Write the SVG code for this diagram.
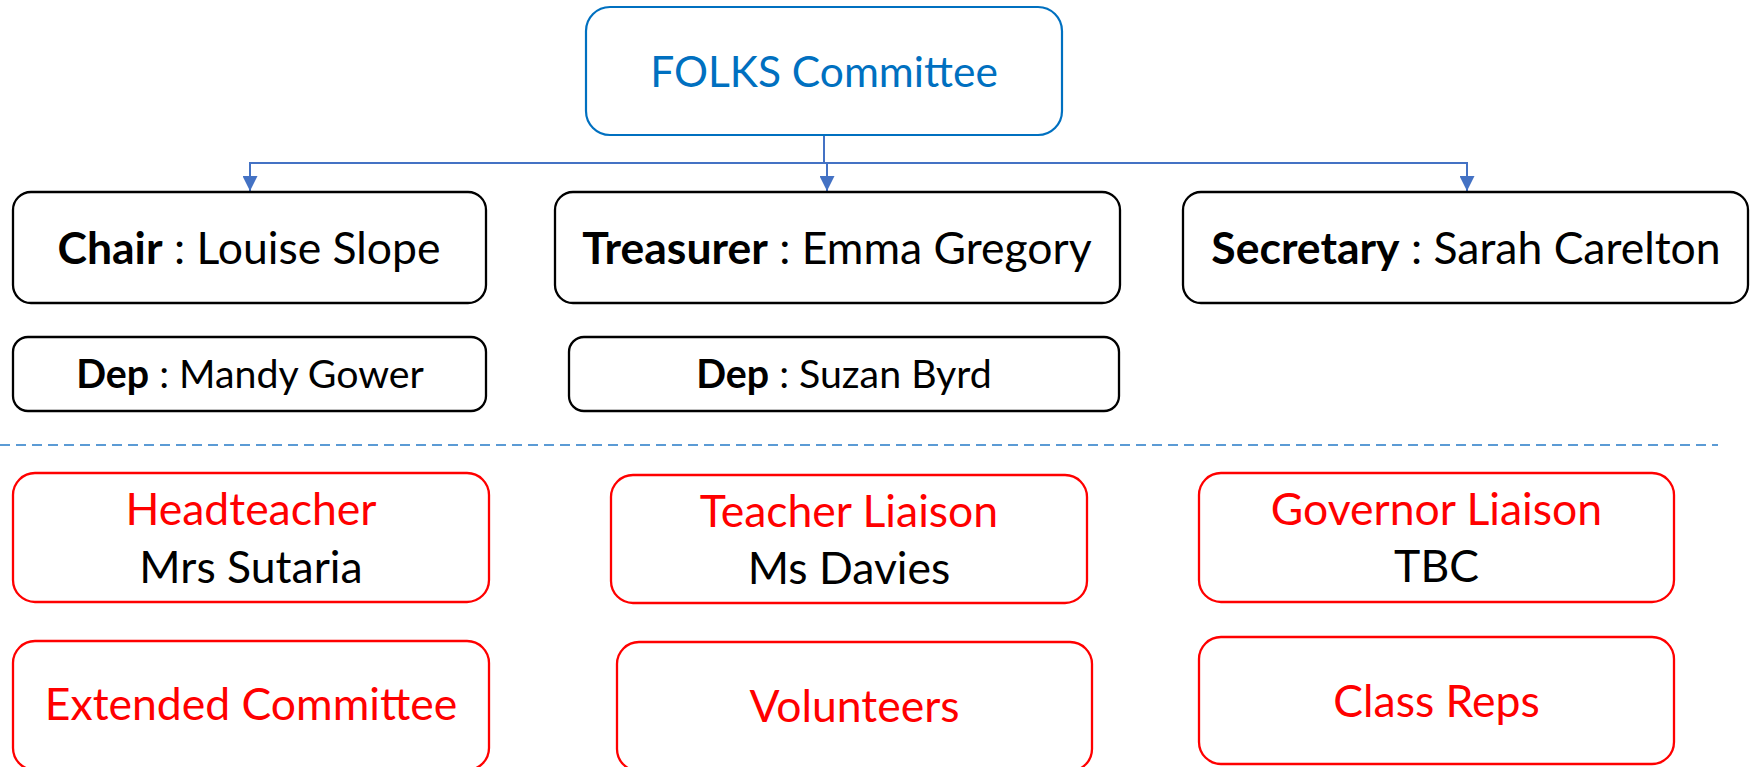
<svg xmlns="http://www.w3.org/2000/svg" width="1752" height="767" viewBox="0 0 1752 767">
<style>
  text { font-family: Lato, "Liberation Sans", sans-serif; text-anchor: middle; }
  .big { font-size: 44.5px; }
  .title { font-size: 42.5px; }
  .dep { font-size: 39.3px; }
  .b { font-weight: bold; }
  .blk { fill: #000000; }
  .red { fill: #FF0000; }
  .blu { fill: #0070C0; }
  .boxk { fill: #FFFFFF; stroke: #000000; stroke-width: 2.3; }
  .boxr { fill: #FFFFFF; stroke: #FF0000; stroke-width: 2.3; }
  .boxb { fill: #FFFFFF; stroke: #0070C0; stroke-width: 2.2; }
  .conn { fill: none; stroke: #4472C4; stroke-width: 2; }
  .sep { fill: none; stroke: #5B9BD5; stroke-width: 2; stroke-dasharray: 10 6; }
</style>
<defs>
  <marker id="arr" viewBox="0 0 10 10" refX="10" refY="5" markerWidth="15" markerHeight="15" markerUnits="userSpaceOnUse" orient="auto">
    <path d="M0,0 L10,5 L0,10 z" fill="#4472C4"/>
  </marker>
</defs>
<rect width="1752" height="767" fill="#FFFFFF"/>

<g id="connectors">
  <path class="conn" d="M824,135 V163 H250 V191" marker-end="url(#arr)"/>
  <path class="conn" d="M824,135 V163 H827 V191" marker-end="url(#arr)"/>
  <path class="conn" d="M824,135 V163 H1467 V191" marker-end="url(#arr)"/>
</g>

<g id="folks">
  <rect class="boxb" x="586" y="7" width="476" height="128" rx="24"/>
  <text class="title blu" x="824" y="87">FOLKS Committee</text>
</g>

<g id="chair">
  <rect class="boxk" x="13" y="192" width="473" height="111" rx="18"/>
  <text class="big blk" x="249" y="264"><tspan class="b">Chair</tspan> : Louise Slope</text>
</g>
<g id="treasurer">
  <rect class="boxk" x="555" y="192" width="565" height="111" rx="18"/>
  <text class="big blk" x="837" y="264"><tspan class="b">Treasurer</tspan> : Emma Gregory</text>
</g>
<g id="secretary">
  <rect class="boxk" x="1183" y="192" width="565" height="111" rx="18"/>
  <text class="big blk" x="1466" y="264"><tspan class="b">Secretary</tspan> : Sarah Carelton</text>
</g>

<g id="dep-chair">
  <rect class="boxk" x="13" y="337" width="473" height="74" rx="15"/>
  <text class="dep blk" x="250" y="388"><tspan class="b">Dep</tspan> : Mandy Gower</text>
</g>
<g id="dep-treasurer">
  <rect class="boxk" x="569" y="337" width="550" height="74" rx="15"/>
  <text class="dep blk" x="844" y="388"><tspan class="b">Dep</tspan> : Suzan Byrd</text>
</g>

<line class="sep" x1="0" y1="445" x2="1718" y2="445"/>

<g id="headteacher">
  <rect class="boxr" x="13" y="473" width="476" height="129" rx="22"/>
  <text class="big red" x="251" y="525">Headteacher</text>
  <text class="big blk" x="251" y="583">Mrs Sutaria</text>
</g>
<g id="teacher-liaison">
  <rect class="boxr" x="611" y="475" width="476" height="128" rx="22"/>
  <text class="big red" x="849" y="527">Teacher Liaison</text>
  <text class="big blk" x="849" y="584">Ms Davies</text>
</g>
<g id="governor-liaison">
  <rect class="boxr" x="1199" y="473" width="475" height="129" rx="22"/>
  <text class="big red" x="1436.5" y="525">Governor Liaison</text>
  <text class="big blk" x="1436.5" y="582">TBC</text>
</g>

<g id="extended-committee">
  <rect class="boxr" x="13" y="641" width="476" height="129" rx="22"/>
  <text class="big red" x="251" y="720">Extended Committee</text>
</g>
<g id="volunteers">
  <rect class="boxr" x="617" y="642" width="475" height="129" rx="22"/>
  <text class="big red" x="854.5" y="722">Volunteers</text>
</g>
<g id="class-reps">
  <rect class="boxr" x="1199" y="637" width="475" height="127" rx="22"/>
  <text class="big red" x="1436.5" y="717">Class Reps</text>
</g>
</svg>
